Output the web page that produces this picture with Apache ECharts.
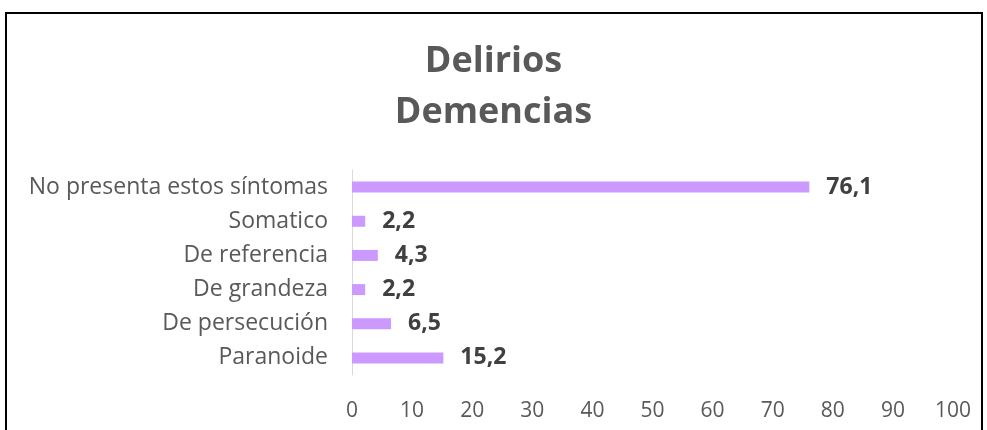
<!DOCTYPE html>
<html>
<head>
<meta charset="utf-8">
<script src="https://cdn.jsdelivr.net/npm/echarts@6/dist/echarts.min.js"></script>
<style>
  html, body { margin: 0; padding: 0; background: #fff; }
  #frame { position: absolute; left: 5px; top: 12px; width: 978px; height: 440px; border: 2px solid #000; box-sizing: border-box; }
  #chart { position: absolute; left: 0; top: 0; width: 987px; height: 430px; }
</style>
</head>
<body>
<div id="frame"></div>
<div id="chart"></div>
<script>
const categories = ['Paranoide', 'De persecución', 'De grandeza', 'De referencia', 'Somatico', 'No presenta estos síntomas']
const values = [15.2, 6.5, 2.2, 4.3, 2.2, 76.1]
const xTicks = [0, 100, 10]

const myChart = echarts.init(document.getElementById('chart'))
myChart.setOption({
    title: {
        text: 'Delirios\nDemencias',
        left: 'center',
        top: 31,
        textStyle: {
            fontFamily: 'Open Sans',
            fontSize: 36,
            fontWeight: 'bold',
            color: '#595959',
            lineHeight: 51
        }
    },
    grid: { left: 352, right: 34, top: 170, bottom: 55, containLabel: false },
    xAxis: {
        type: 'value',
        min: xTicks[0],
        max: xTicks[1],
        interval: xTicks[2],
        splitLine: { show: false },
        axisLine: { show: false },
        axisTick: { show: false },
        axisLabel: { margin: 26, fontFamily: 'Open Sans', fontSize: 21, color: '#595959' }
    },
    yAxis: {
        type: 'category',
        data: categories,
        axisLine: { show: true, lineStyle: { color: '#d9d9d9', width: 1 } },
        axisTick: { show: false },
        axisLabel: { margin: 24, fontFamily: 'Open Sans', fontSize: 23, color: '#595959' }
    },
    series: [
        {
            type: 'bar',
            data: values,
            barWidth: 11,
            itemStyle: { color: '#CC99FF' },
            label: {
                show: true,
                position: 'right',
                distance: 17,
                fontFamily: 'Open Sans',
                fontSize: 23,
                fontWeight: 'bold',
                color: '#404040',
                formatter: p => String(p.value).replace('.', ',')
            }
        }
    ]
})
</script>
</body>
</html>
